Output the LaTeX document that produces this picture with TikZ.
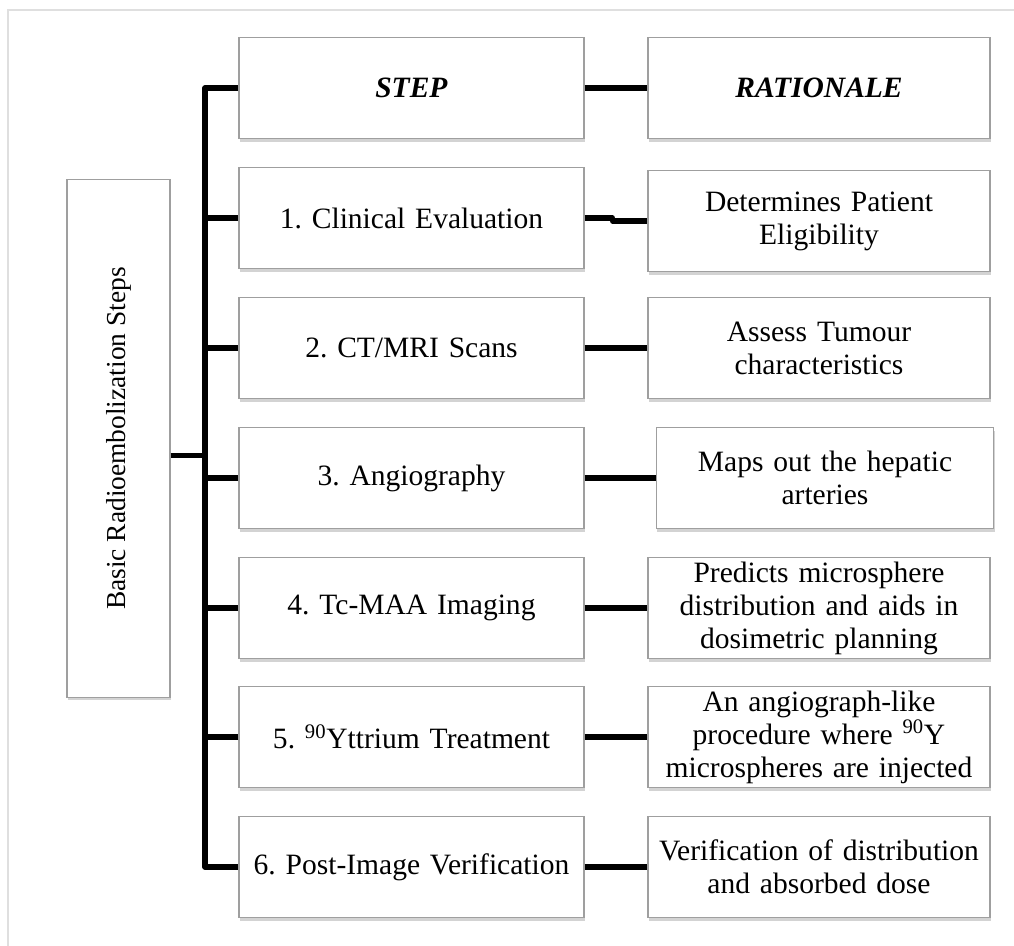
\documentclass[tikz,border=0pt]{standalone}
\usepackage{fontspec}
\setmainfont{Liberation Serif}
\usepackage{tikz}
\usetikzlibrary{shadows}
\frenchspacing

\tikzset{
  box/.style={draw=gray!75, line width=0.8pt, fill=white, align=center, inner sep=2pt,
    minimum width=8.62cm, minimum height=2.52cm, text width=8.3cm,
    font=\fontsize{21}{23.5}\selectfont,
    drop shadow={shadow xshift=0.6pt, shadow yshift=-2.4pt, opacity=0.35}},
  link/.style={line width=3.6pt, black, line join=round}
}

\begin{document}
\begin{tikzpicture}[x=0.025cm, y=-0.025cm]

        \useasboundingbox (0, 0) rectangle (1014, 946);

        % outer frame
        \draw [gray!25, line width=1pt] (8, 946) -- (8, 10) -- (1014, 10);

        % title box
        \node[box, minimum width=2.575cm, minimum height=12.925cm, text width=2.4cm] (title) at (118.5, 438.5) {};
        \node[rotate=90, font=\fontsize{19.5}{22}\selectfont] (titletext) at (title) {Basic Radioembolization Steps};

        % header row
        \node[box] (step) at (411.5, 88) {\textbf{\textit{STEP}}};
        \node[box, minimum width=8.55cm] (rationale) at (819, 88) {\textbf{\textit{RATIONALE}}};

        % steps
        \foreach \i/\y/\txt in {1/218/{1. Clinical Evaluation}, 2/348/{2. CT/MRI Scans}, 3/478/{3. Angiography},
                                4/608/{4. Tc-MAA Imaging}, 5/737/{5. \textsuperscript{90}Yttrium Treatment},
                                6/867/{6. Post-Image Verification}}
        {
        \node[box] (s\i) at (411.5, \y) {\txt};
        }

        % rationales
        \node[box, minimum width=8.55cm] (r1) at (819, 221) {Determines Patient\\Eligibility};
        \node[box, minimum width=8.55cm] (r2) at (819, 348) {Assess Tumour\\characteristics};
        \node[box, minimum width=8.35cm] (r3) at (825, 478) {Maps out the hepatic\\arteries};
        \node[box, minimum width=8.55cm] (r4) at (819, 608) {Predicts microsphere\\distribution and aids in\\dosimetric planning};
        \node[box, minimum width=8.55cm] (r5) at (819, 737) {An angiograph-like\\procedure where \textsuperscript{90}Y\\microspheres are injected};
        \node[box, minimum width=8.55cm] (r6) at (819, 867) {Verification of distribution\\and absorbed dose};

        % trunk
        \coordinate (ttop) at (205, 88);
        \coordinate (tbot) at (205, 867);
        \draw [link] (step.west) -- (ttop) -- (tbot) -- (s6.west);
        \foreach \i in {1, 2, 3, 4, 5}
        {
        \draw [link] (s\i.west) -- (s\i.west -| ttop);
        }
        \draw [link] ([yshift=-12pt]title.east) -- ([yshift=-12pt]title.east -| ttop);

        % step to rationale
        \draw [link] (step.east) -- (rationale.west);
        \draw [link] (s1.east) -- ++(28, 0) |- (r1.west);
        \foreach \i in {2, 3, 4, 5, 6}
        {
        \draw [link] (s\i.east) -- (r\i.west);
        }

      \end{tikzpicture}
\end{document}
